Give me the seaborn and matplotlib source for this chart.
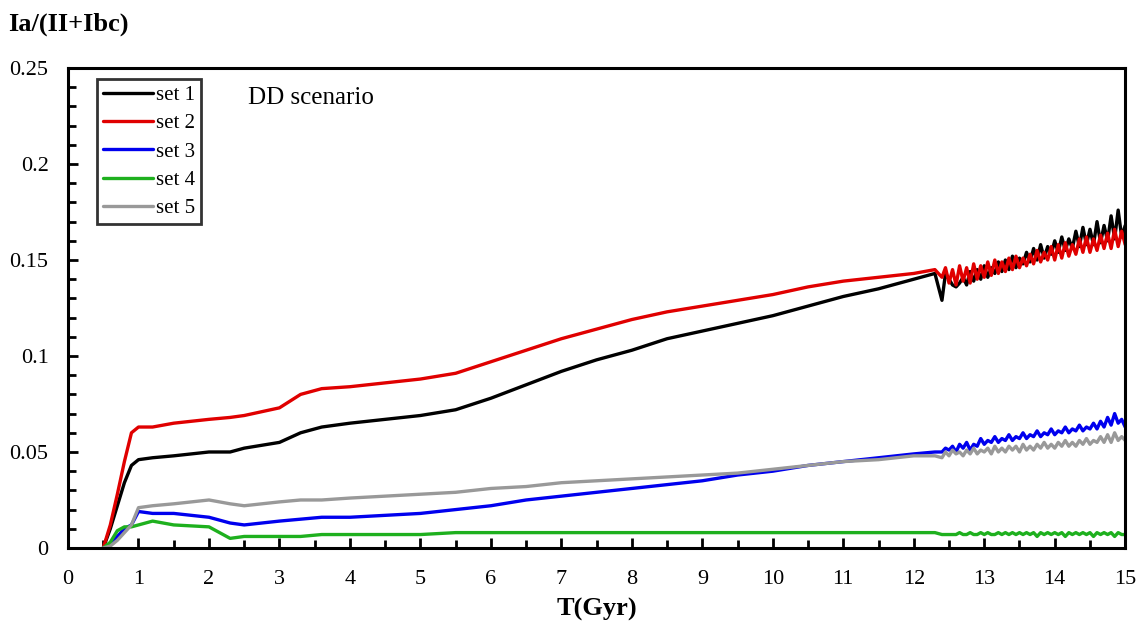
import matplotlib
matplotlib.use("Agg")
import matplotlib.pyplot as plt
import numpy as np
import pandas as pd
import seaborn as sns
from matplotlib.ticker import MultipleLocator

# smooth part of the curves (Gyr)
t_smooth = [0.5, 0.6, 0.7, 0.8, 0.9, 1.0, 1.2, 1.5, 2.0, 2.3, 2.5, 3.0, 3.3, 3.6,
            4.0, 4.5, 5.0, 5.5, 6.0, 6.5, 7.0, 7.5, 8.0, 8.5, 9.0, 9.5, 10.0,
            10.5, 11.0, 11.5, 12.0, 12.3]
set1_smooth = [0.0, 0.010, 0.022, 0.034, 0.043, 0.046, 0.047, 0.048, 0.050, 0.050,
               0.052, 0.055, 0.060, 0.063, 0.065, 0.067, 0.069, 0.072, 0.078,
               0.085, 0.092, 0.098, 0.103, 0.109, 0.113, 0.117, 0.121, 0.126,
               0.131, 0.135, 0.140, 0.143]
set2_smooth = [0.0, 0.012, 0.028, 0.045, 0.060, 0.063, 0.063, 0.065, 0.067, 0.068,
               0.069, 0.073, 0.080, 0.083, 0.084, 0.086, 0.088, 0.091, 0.097,
               0.103, 0.109, 0.114, 0.119, 0.123, 0.126, 0.129, 0.132, 0.136,
               0.139, 0.141, 0.143, 0.145]
set3_smooth = [0.0, 0.002, 0.006, 0.010, 0.012, 0.019, 0.018, 0.018, 0.016, 0.013,
               0.012, 0.014, 0.015, 0.016, 0.016, 0.017, 0.018, 0.020, 0.022,
               0.025, 0.027, 0.029, 0.031, 0.033, 0.035, 0.038, 0.040, 0.043,
               0.045, 0.047, 0.049, 0.050]
set4_smooth = [0.0, 0.003, 0.009, 0.011, 0.011, 0.012, 0.014, 0.012, 0.011, 0.005,
               0.006, 0.006, 0.006, 0.007, 0.007, 0.007, 0.007, 0.008, 0.008,
               0.008, 0.008, 0.008, 0.008, 0.008, 0.008, 0.008, 0.008, 0.008,
               0.008, 0.008, 0.008, 0.008]
set5_smooth = [0.0, 0.001, 0.004, 0.008, 0.012, 0.021, 0.022, 0.023, 0.025, 0.023,
               0.022, 0.024, 0.025, 0.025, 0.026, 0.027, 0.028, 0.029, 0.031,
               0.032, 0.034, 0.035, 0.036, 0.037, 0.038, 0.039, 0.041, 0.043,
               0.045, 0.046, 0.048, 0.048]

# noisy tail, 12.4 to 15 Gyr every 0.05 Gyr
t_noisy = np.linspace(12.4, 15.0, 53).round(2).tolist()
set1_noisy = [0.129, 0.143, 0.140, 0.137, 0.136, 0.138, 0.141, 0.137, 0.144, 0.139,
              0.145, 0.140, 0.147, 0.141, 0.146, 0.143, 0.149, 0.144, 0.150, 0.145,
              0.152, 0.146, 0.151, 0.148, 0.154, 0.149, 0.156, 0.150, 0.158, 0.151,
              0.157, 0.153, 0.160, 0.154, 0.162, 0.155, 0.161, 0.156, 0.165, 0.157,
              0.167, 0.158, 0.166, 0.158, 0.170, 0.159, 0.168, 0.160, 0.173, 0.161,
              0.176, 0.162, 0.168]
set2_noisy = [0.141, 0.146, 0.138, 0.145, 0.137, 0.147, 0.139, 0.146, 0.138, 0.148,
              0.140, 0.147, 0.141, 0.149, 0.142, 0.150, 0.143, 0.149, 0.144, 0.151,
              0.145, 0.152, 0.146, 0.151, 0.147, 0.153, 0.148, 0.155, 0.149, 0.154,
              0.150, 0.157, 0.150, 0.158, 0.151, 0.159, 0.152, 0.158, 0.153, 0.161,
              0.154, 0.162, 0.154, 0.161, 0.155, 0.163, 0.156, 0.164, 0.156, 0.166,
              0.157, 0.165, 0.158]
set3_noisy = [0.050, 0.052, 0.051, 0.053, 0.050, 0.054, 0.052, 0.055, 0.051, 0.054,
              0.053, 0.057, 0.054, 0.056, 0.055, 0.058, 0.055, 0.057, 0.056, 0.059,
              0.056, 0.058, 0.057, 0.060, 0.057, 0.059, 0.058, 0.061, 0.058, 0.060,
              0.059, 0.062, 0.059, 0.061, 0.060, 0.063, 0.060, 0.062, 0.061, 0.064,
              0.061, 0.063, 0.062, 0.065, 0.062, 0.066, 0.063, 0.068, 0.064, 0.070,
              0.065, 0.067, 0.063]
set4_noisy = [0.007, 0.007, 0.007, 0.007, 0.007, 0.008, 0.007, 0.007, 0.008, 0.007,
              0.007, 0.008, 0.007, 0.008, 0.007, 0.007, 0.008, 0.007, 0.008, 0.007,
              0.008, 0.007, 0.008, 0.007, 0.008, 0.007, 0.008, 0.006, 0.008, 0.007,
              0.008, 0.007, 0.008, 0.007, 0.008, 0.006, 0.008, 0.007, 0.008, 0.007,
              0.008, 0.007, 0.008, 0.006, 0.008, 0.007, 0.008, 0.007, 0.008, 0.006,
              0.008, 0.007, 0.007]
set5_noisy = [0.047, 0.050, 0.048, 0.051, 0.049, 0.050, 0.048, 0.051, 0.049, 0.052,
              0.049, 0.051, 0.050, 0.052, 0.049, 0.053, 0.050, 0.052, 0.050, 0.053,
              0.051, 0.053, 0.050, 0.054, 0.051, 0.053, 0.051, 0.054, 0.052, 0.055,
              0.052, 0.054, 0.052, 0.055, 0.053, 0.056, 0.053, 0.055, 0.053, 0.056,
              0.054, 0.057, 0.054, 0.056, 0.055, 0.058, 0.055, 0.059, 0.055, 0.060,
              0.056, 0.058, 0.056]

set_names = ["set 1", "set 2", "set 3", "set 4", "set 5"]
set_colors = ["#000000", "#e00000", "#0000ee", "#1eb01e", "#999999"]
y_ticks = [0, 0.05, 0.1, 0.15, 0.2, 0.25]
y_tick_labels = ["0", "0.05", "0.1", "0.15", "0.2", "0.25"]

series = {
    "set 1": set1_smooth + set1_noisy,
    "set 2": set2_smooth + set2_noisy,
    "set 3": set3_smooth + set3_noisy,
    "set 4": set4_smooth + set4_noisy,
    "set 5": set5_smooth + set5_noisy,
}
t_all = t_smooth + t_noisy

frames = []
for name in set_names:
    frames.append(pd.DataFrame({"T": t_all, "ratio": series[name], "set": name}))
df = pd.concat(frames, ignore_index=True)

sns.set_style("white")
plt.rcParams["font.family"] = ["Liberation Serif", "DejaVu Serif"]
plt.rcParams["text.color"] = "black"
plt.rcParams["xtick.color"] = "black"
plt.rcParams["ytick.color"] = "black"

fig = plt.figure(figsize=(11.47, 6.30), dpi=100)
ax = fig.add_axes([0.0593, 0.1302, 0.9217, 0.7618])

sns.lineplot(
    data=df, x="T", y="ratio", hue="set", hue_order=set_names,
    palette=set_colors, estimator=None, sort=True, linewidth=2.4,
    ax=ax, legend=False
)

ax.set_xlim(0, 15)
ax.set_ylim(0, 0.25)
ax.xaxis.set_major_locator(MultipleLocator(1))
ax.xaxis.set_minor_locator(MultipleLocator(0.5))
ax.set_yticks(y_ticks, y_tick_labels)
ax.yaxis.set_minor_locator(MultipleLocator(0.01))
ax.tick_params(which="both", direction="in", top=False, right=False,
               left=True, bottom=True, width=2, labelsize=16, color="black",
               labelcolor="black")
ax.tick_params(which="major", length=7)
ax.tick_params(which="minor", length=6)
ax.tick_params(axis="x", which="major", pad=16)
ax.tick_params(axis="y", which="major", pad=14)
for sp in ax.spines.values():
    sp.set_linewidth(2.2)
    sp.set_color("black")

ax.set_xlabel("T(Gyr)", fontsize=19, fontweight="bold", labelpad=6, color="black")
ax.set_ylabel("")
fig.text(0.007, 0.962, "Ia/(II+Ibc)", fontsize=19, fontweight="bold",
         ha="left", va="center")

ax.text(2.55, 0.2344, "DD scenario", fontsize=18, ha="left", va="center")

handles = [plt.Line2D([], [], color=c, linewidth=2.4) for c in set_colors]
leg = ax.legend(handles, set_names, loc="upper left", bbox_to_anchor=(0.0274, 0.977),
                fontsize=15, frameon=True, fancybox=False, handlelength=2.4,
                handletextpad=0.12, labelspacing=0.42, borderpad=0.3,
                borderaxespad=0)
leg.get_frame().set_edgecolor("black")
leg.get_frame().set_linewidth(2)

fig.savefig("out.png", dpi=100)
